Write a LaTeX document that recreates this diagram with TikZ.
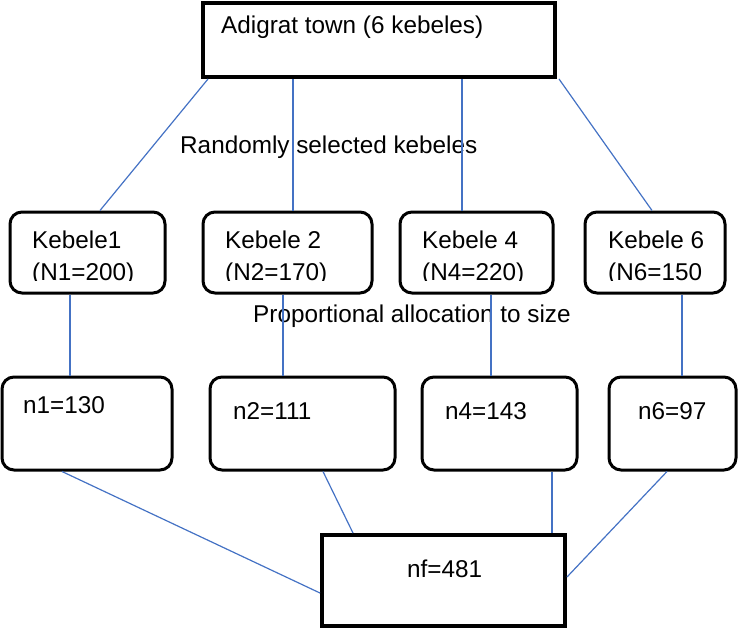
\documentclass[tikz,border=0pt]{standalone}
\usepackage{fontspec}
\setmainfont{Liberation Sans}
\usetikzlibrary{calc}
\definecolor{linkblue}{RGB}{68,114,196}
\tikzset{
  link/.style={draw=linkblue,line width=1.2pt},
  sqbox/.style={draw,line width=4pt,inner sep=0pt},
  rbox/.style={draw,line width=3pt,rounded corners=12pt,inner sep=0pt},
  lbl/.style={inner sep=0pt,anchor=base west,align=left,
    font=\fontsize{24.3}{32}\selectfont}
}

\begin{document}
\begin{tikzpicture}[x=1pt,y=-1pt]
\useasboundingbox (0,0) rectangle (739,629);

% boxes
\node[sqbox,minimum width=352pt,minimum height=74pt] (town) at (379,40) {};

\node[rbox,minimum width=155pt,minimum height=81pt] (k1) at (87.5,252.5) {};
\node[rbox,minimum width=169pt,minimum height=81pt] (k2) at (287.5,252.5) {};
\node[rbox,minimum width=153pt,minimum height=81pt] (k4) at (476.5,252.5) {};
\node[rbox,minimum width=140pt,minimum height=81pt] (k6) at (655,252.5) {};

\node[rbox,minimum width=170pt,minimum height=93pt] (n1) at (87,423.5) {};
\node[rbox,minimum width=185pt,minimum height=93pt] (n2) at (302.5,423.5) {};
\node[rbox,minimum width=155pt,minimum height=93pt] (n4) at (499.5,423.5) {};
\node[rbox,minimum width=127pt,minimum height=93pt] (n6) at (672.5,423.5) {};

\node[sqbox,minimum width=243pt,minimum height=91pt] (nf) at (443.5,580.5) {};

% texts
\node[lbl] (townlbl) at (221,33) {Adigrat town (6 kebeles)};
\node[lbl] (sel) at (180,153) {Randomly selected kebeles};
\node[lbl] (alloc) at (253,322) {Proportional allocation to size};

% second lines are cut off at the bottom
\begin{scope}
\clip (0,200) rectangle (739,280);
\node[lbl] (k1lbl) at (32,280) {Kebele1\\(N1=200)};
\node[lbl] (k2lbl) at (225,280) {Kebele 2\\(N2=170)};
\node[lbl] (k4lbl) at (422,280) {Kebele 4\\(N4=220)};
\node[lbl] (k6lbl) at (608,280) {Kebele 6\\(N6=150};
\end{scope}

\node[lbl] (n1lbl) at (23,413) {n1=130};
\node[lbl] (n2lbl) at (233,419) {n2=111};
\node[lbl] (n4lbl) at (445,419) {n4=143};
\node[lbl] (n6lbl) at (638,419) {n6=97};
\node[lbl] (nflbl) at (407,577) {nf=481};

% connectors
\draw[link] ([xshift=7pt]town.south west) -- ([xshift=12.5pt]k1.north);
\draw[link] ([xshift=-86pt]town.south) -- ([xshift=5.5pt]k2.north);
\draw[link] ([xshift=83pt]town.south) -- ([xshift=-14.5pt]k4.north);
\draw[link] ([xshift=2pt]town.south east) -- ([xshift=-3pt]k6.north);

\draw[link] ([xshift=-17.5pt]k1.south) -- ([xshift=-17pt]n1.north);
\draw[link] ([xshift=-4.5pt]k2.south) -- ([xshift=-19.5pt]n2.north);
\draw[link] ([xshift=14.5pt]k4.south) -- ([xshift=-8.5pt]n4.north);
\draw[link] ([xshift=27pt]k6.south) -- ([xshift=9.5pt]n6.north);

\draw[link] ([xshift=-25pt]n1.south) -- ([yshift=-12.5pt]nf.west);
\draw[link] ([xshift=20.5pt]n2.south) -- ([xshift=-90.5pt]nf.north);
\draw[link] ([xshift=52.5pt]n4.south) -- ([xshift=108.5pt]nf.north);
\draw[link] ([xshift=-5.5pt]n6.south) -- ([yshift=3.5pt]nf.east);
\end{tikzpicture}
\end{document}
